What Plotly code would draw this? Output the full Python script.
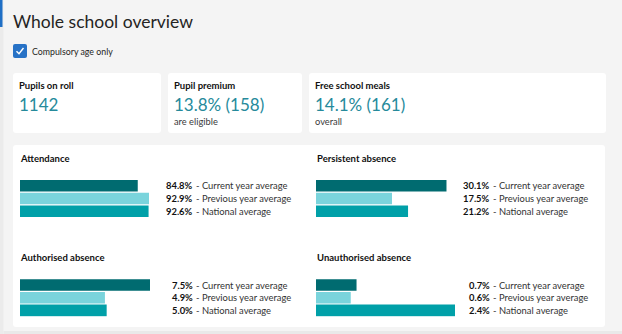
import plotly.graph_objects as go

W, H = 622, 334

# ---------------- data ----------------
series_names = ["Current year average", "Previous year average", "National average"]
series_colors = ["#006b70", "#7ad4dc", "#00a0a8"]

attendance = [84.8, 92.9, 92.6]
persistent_absence = [30.1, 17.5, 21.2]
authorised_absence = [7.5, 4.9, 5.0]
unauthorised_absence = [0.7, 0.6, 2.4]

card_titles = ["Pupils on roll", "Pupil premium", "Free school meals"]
card_values = ["1142", "13.8% (158)", "14.1% (161)"]
card_subtexts = ["", "are eligible", "overall"]

page_title = "Whole school overview"
checkbox_label = "Compulsory age only"

FONT = "Lato"


def px(x):
    return x / W


def py(y):
    return 1 - y / H


def rrect(x0, y0, x1, y1, r):
    X0, X1 = px(x0), px(x1)
    Y0, Y1 = py(y0), py(y1)
    rx, ry = r / W, r / H
    return (f"M{X0+rx},{Y0} L{X1-rx},{Y0} Q{X1},{Y0} {X1},{Y0-ry} "
            f"L{X1},{Y1+ry} Q{X1},{Y1} {X1-rx},{Y1} L{X0+rx},{Y1} "
            f"Q{X0},{Y1} {X0},{Y1+ry} L{X0},{Y0-ry} Q{X0},{Y0} {X0+rx},{Y0} Z")


def text(x, y, s, size, color, anchor="left"):
    # compensate annotation padding (~2px)
    xx = x - 2 if anchor == "left" else x + 2
    return dict(x=px(xx), y=py(y), xref="paper", yref="paper", text=s, showarrow=False,
                xanchor=anchor, yanchor="middle",
                font=dict(family=FONT, size=size, color=color))


fig = go.Figure()
shapes = []
ann = []

# page decorations
shapes.append(dict(type="rect", xref="paper", yref="paper", x0=0, x1=px(3.5), y0=0, y1=1,
                   fillcolor="#ebebeb", line_width=0, layer="below"))
shapes.append(dict(type="rect", xref="paper", yref="paper", x0=0, x1=px(2.5), y0=py(27), y1=1,
                   fillcolor="#1f6fc5", line_width=0, layer="below"))
shapes.append(dict(type="rect", xref="paper", yref="paper", x0=px(3.5), x1=1, y0=0, y1=py(331),
                   fillcolor="#e9e9e9", line_width=0, layer="below"))

ann.append(text(13, 21, page_title, 17.5, "#252423"))

# checkbox
shapes.append(dict(type="path", xref="paper", yref="paper", path=rrect(13, 44, 27, 58, 2),
                   fillcolor="#2772c6", line_width=0, layer="below"))
shapes.append(dict(type="path", xref="paper", yref="paper",
                   path=f"M{px(16.5)},{py(51.2)} L{px(19)},{py(53.8)} L{px(23.5)},{py(48)}",
                   line=dict(color="white", width=1.4), layer="above"))
ann.append(text(32, 51.5, checkbox_label, 8.8, "#252423"))

# cards
card_boxes = [(13, 161), (168, 302), (309, 606)]
for (x0, x1), t, v, s in zip(card_boxes, card_titles, card_values, card_subtexts):
    shapes.append(dict(type="path", xref="paper", yref="paper", path=rrect(x0, 73, x1, 133, 3),
                       fillcolor="white", line_width=0, layer="below"))
    ann.append(text(x0 + 6.3, 86, f"<b>{t}</b>", 9.5, "#111111"))
    ann.append(text(x0 + 6, 104, v, 17, "#268a9b"))
    if s:
        ann.append(text(x0 + 6.3, 121, s, 9.3, "#3a3a3a"))

# big panel
shapes.append(dict(type="path", xref="paper", yref="paper", path=rrect(13, 145, 605, 327, 3),
                   fillcolor="white", line_width=0, layer="below"))

# bar panels: (title, values, title_x, title_y, bar_x0, bar_x_full, row0_center, text_x)
panels = [
    ("Attendance", attendance, 20, 158, 20, 149, 185.8, 193),
    ("Persistent absence", persistent_absence, 316.5, 158, 316, 446.7, 185.8, 489.5),
    ("Authorised absence", authorised_absence, 20, 257.5, 20, 150, 285.0, 193),
    ("Unauthorised absence", unauthorised_absence, 316.5, 257.5, 316, 455, 285.0, 489.5),
]
pitch = 12.7
layout_axes = {}
for i, (title, vals, tx, ty, bx0, bx1, r0, textx) in enumerate(panels):
    n = i + 1
    xa = "x" if n == 1 else f"x{n}"
    ya = "y" if n == 1 else f"y{n}"
    fig.add_trace(go.Bar(x=vals, y=series_names, orientation="h", marker_color=series_colors,
                         marker_line_width=0, xaxis=xa, yaxis=ya, showlegend=False,
                         hovertemplate="%{y}: %{x}%<extra></extra>"))
    top = r0 - pitch / 2
    bot = r0 + pitch * 2.5
    layout_axes["xaxis" if n == 1 else f"xaxis{n}"] = dict(
        domain=[px(bx0), px(bx1)], range=[0, max(vals)], visible=False, fixedrange=True,
        anchor=ya)
    layout_axes["yaxis" if n == 1 else f"yaxis{n}"] = dict(
        domain=[py(bot), py(top)], autorange="reversed", visible=False, fixedrange=True,
        anchor=xa, categoryorder="array", categoryarray=series_names)
    ann.append(text(tx, ty, f"<b>{title}</b>", 9.5, "#111111"))
    for k, (v, name) in enumerate(zip(vals, series_names)):
        yy = r0 + k * pitch
        ann.append(text(textx, yy, f"<b>{v:.1f}%</b>", 9.4, "#111111", anchor="right"))
        ann.append(text(textx + 3, yy, f"- {name}", 9.4, "#333333"))

fig.update_layout(
    width=W, height=H, margin=dict(l=0, r=0, t=0, b=0),
    paper_bgcolor="#f4f4f4", plot_bgcolor="rgba(0,0,0,0)",
    bargap=0.09, shapes=shapes, annotations=ann, font=dict(family=FONT),
    **layout_axes,
)

fig.write_html("out.html", config={"displayModeBar": False})
